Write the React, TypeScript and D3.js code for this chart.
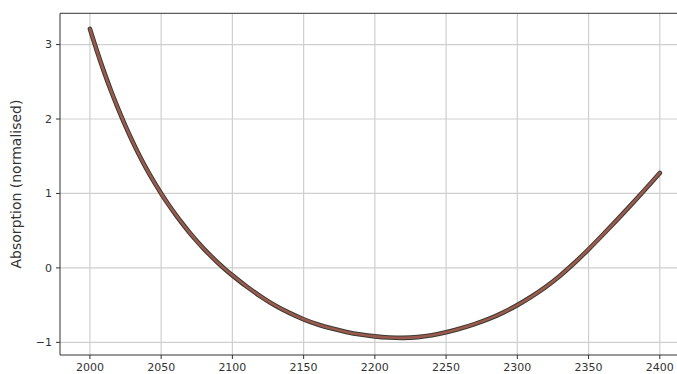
import React from "react";
import * as d3 from "d3";

const wavelengths = [
  2000, 2005, 2010, 2015, 2020, 2025, 2030, 2035, 2040, 2045, 2050, 2055, 2060, 2065, 2070, 2075, 2080, 2085, 2090, 2095,
  2100, 2110, 2120, 2130, 2140, 2150, 2160, 2170, 2180, 2190, 2200, 2210, 2220, 2230, 2240, 2250, 2260, 2270, 2280, 2290,
  2300, 2310, 2320, 2330, 2340, 2350, 2360, 2370, 2380, 2390, 2400,
];
const absorption = [
  3.21, 2.91, 2.63, 2.37, 2.13, 1.905, 1.695, 1.5, 1.32, 1.155, 1.0, 0.855, 0.72, 0.593, 0.473, 0.361, 0.256, 0.158, 0.066, -0.02,
  -0.1, -0.25, -0.385, -0.505, -0.605, -0.69, -0.76, -0.815, -0.86, -0.895, -0.92, -0.935, -0.94, -0.93, -0.905, -0.865, -0.815, -0.755, -0.685, -0.6,
  -0.5, -0.385, -0.255, -0.105, 0.065, 0.25, 0.445, 0.645, 0.85, 1.06, 1.275,
];
const xTicks = [2000, 2050, 2100, 2150, 2200, 2250, 2300, 2350, 2400];
const yTicks = [-1, 0, 1, 2, 3];
const yLabel = "Absorption (normalised)";

export default function App() {
  const W = 677, H = 374;
  const left = 60, right = 689, top = 13.3, bottom = 355;
  const x = d3.scaleLinear().domain([1979, 2420.5]).range([left, right]);
  const y = d3.scaleLinear().domain([-1.17, 3.42]).range([bottom, top]);
  const pts = wavelengths.map((w, i) => [w, absorption[i]] as [number, number]);
  const line = d3.line<[number, number]>().x(d => x(d[0])).y(d => y(d[1])).curve(d3.curveCatmullRom);
  const path = line(pts) || "";
  const font = "DejaVu Sans, sans-serif";
  return (
    <svg width={W} height={H} style={{ position: "absolute", left: 0, top: 0, background: "#fff" }}>
      {xTicks.map(t => (
        <line key={"gx" + t} x1={x(t)} x2={x(t)} y1={top} y2={bottom} stroke="#cfcfcf" strokeWidth={1.2} />
      ))}
      {yTicks.map(t => (
        <line key={"gy" + t} x1={left} x2={right} y1={y(t)} y2={y(t)} stroke="#cfcfcf" strokeWidth={1.2} />
      ))}
      <path d={path} fill="none" stroke="#3b3a2e" strokeWidth={4.6} strokeLinecap="round" />
      <path d={path} fill="none" stroke="#9a5a50" strokeWidth={2.6} strokeLinecap="round" />
      <line x1={left} x2={left} y1={top} y2={bottom} stroke="#333" strokeWidth={1} />
      <line x1={left} x2={right} y1={bottom} y2={bottom} stroke="#333" strokeWidth={1} />
      <line x1={left} x2={right} y1={top} y2={top} stroke="#333" strokeWidth={1} />
      {xTicks.map(t => (
        <g key={"tx" + t}>
          <line x1={x(t)} x2={x(t)} y1={bottom} y2={bottom + 4} stroke="#333" />
          <text x={x(t)} y={bottom + 16} textAnchor="middle" fontFamily={font} fontSize={11} fill="#333">{t}</text>
        </g>
      ))}
      {yTicks.map(t => (
        <g key={"ty" + t}>
          <line x1={left - 4} x2={left} y1={y(t)} y2={y(t)} stroke="#333" />
          <text x={left - 8} y={y(t)} dy="0.35em" textAnchor="end" fontFamily={font} fontSize={11} fill="#333">{t < 0 ? "\u2212" + Math.abs(t) : t}</text>
        </g>
      ))}
      <text transform={`translate(21,184) rotate(-90)`} textAnchor="middle" fontFamily={font} fontSize={14} fill="#333">{yLabel}</text>
    </svg>
  );
}
